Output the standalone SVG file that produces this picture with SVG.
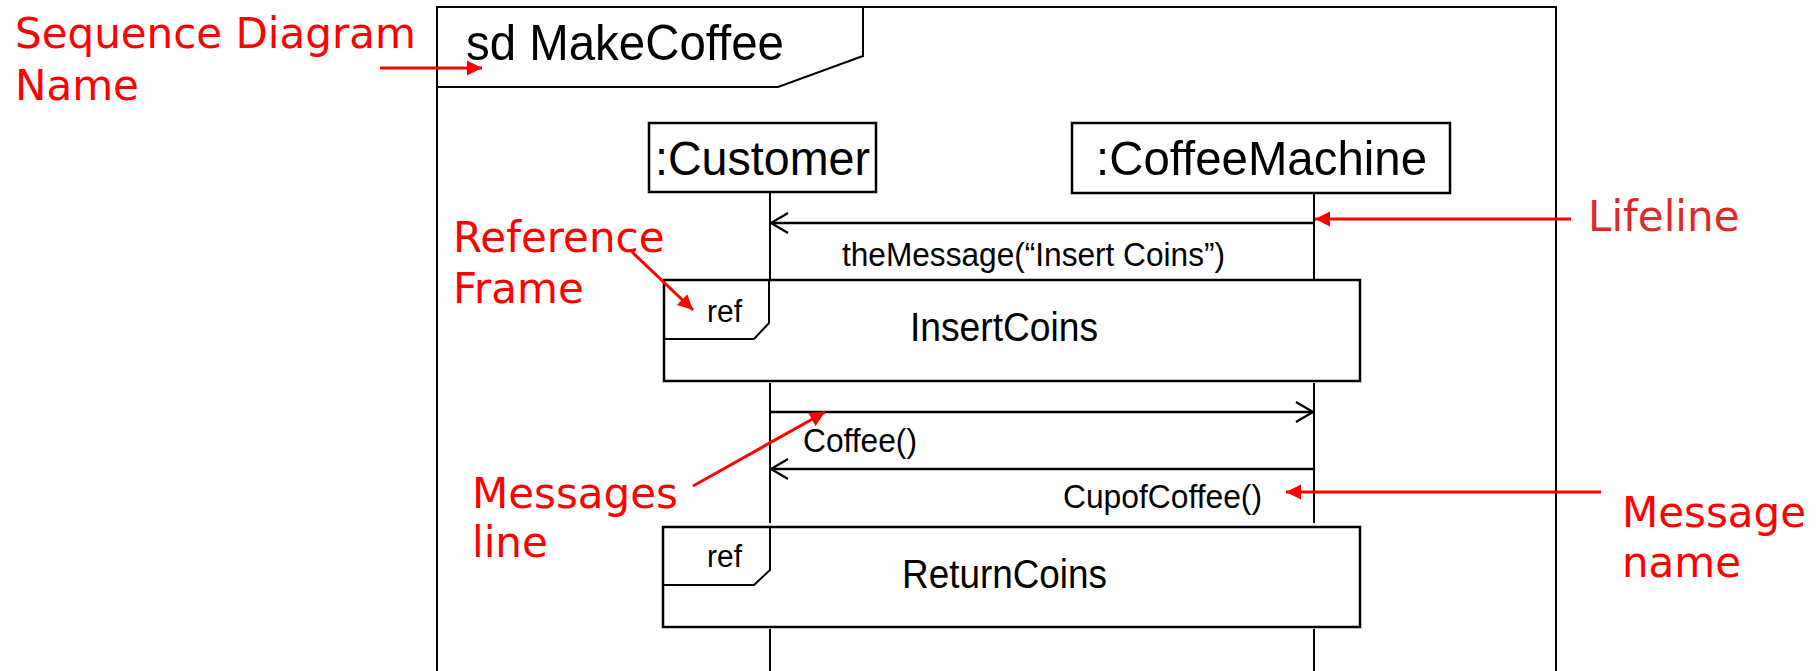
<svg xmlns="http://www.w3.org/2000/svg" width="1816" height="671" viewBox="0 0 1816 671">
<style>
.ln{stroke:#000;stroke-width:2;fill:none}
.msg{stroke:#000;stroke-width:2.3;fill:none}
.box{stroke:#000;stroke-width:2.5;fill:#fff}
.blk{font-family:"Liberation Sans",Arial,sans-serif;fill:#000}
.red{font-family:"DejaVu Sans",Verdana,sans-serif;font-size:42px;fill:#ff0000}
.rl{stroke:#ff0000;stroke-width:3;fill:none}
</style>
<defs>
<marker id="redHead" markerUnits="userSpaceOnUse" markerWidth="16" markerHeight="16" refX="15" refY="7.5" orient="auto" overflow="visible">
<path d="M0,0 L15,7.5 L0,15 z" fill="#ff0000"/>
</marker>
<marker id="openHead" markerUnits="userSpaceOnUse" markerWidth="20" markerHeight="22" refX="17" refY="10" orient="auto" overflow="visible">
<path d="M0,0 L17,10 L0,20" fill="none" stroke="#000" stroke-width="2.2"/>
</marker>
</defs>
<rect width="1816" height="671" fill="#fff"/>

<g id="frame">
<path class="ln" d="M437,680 L437,7 L1556,7 L1556,680"/>
<path class="ln" d="M437,87 L778,87 L863,56 L863,7" stroke-width="2.5"/>
<text class="blk" x="466" y="60" font-size="50" textLength="318" lengthAdjust="spacingAndGlyphs">sd MakeCoffee</text>
</g>

<g id="customer">
<rect class="box" x="649" y="123" width="227" height="69" stroke-width="2"/>
<text class="blk" x="655" y="175" font-size="49" textLength="215" lengthAdjust="spacingAndGlyphs">:Customer</text>
<path class="ln" d="M770,192 L770,280 M770,383 L770,523 M770,629 L770,671"/>
</g>

<g id="coffeeMachine">
<rect class="box" x="1072" y="123" width="378" height="70" stroke-width="2"/>
<text class="blk" x="1096" y="175" font-size="49" textLength="331" lengthAdjust="spacingAndGlyphs">:CoffeeMachine</text>
<path class="ln" d="M1314,193 L1314,280 M1314,383 L1314,523 M1314,629 L1314,671"/>
</g>

<g id="refInsertCoins">
<rect class="box" x="664" y="280" width="696" height="101"/>
<path class="ln" d="M664,339 L754,339 L769,323 L769,280" stroke-width="2.5"/>
<text class="blk" x="707" y="322" font-size="31" textLength="35" lengthAdjust="spacingAndGlyphs">ref</text>
<text class="blk" x="910" y="341" font-size="40" textLength="188" lengthAdjust="spacingAndGlyphs">InsertCoins</text>
</g>

<g id="refReturnCoins">
<rect class="box" x="663" y="527" width="697" height="100"/>
<path class="ln" d="M663,585 L754,585 L770,570 L770,527" stroke-width="2.5"/>
<text class="blk" x="707" y="567" font-size="31" textLength="35" lengthAdjust="spacingAndGlyphs">ref</text>
<text class="blk" x="902" y="588" font-size="40" textLength="205" lengthAdjust="spacingAndGlyphs">ReturnCoins</text>
</g>

<g id="connectors">
<line class="msg" x1="1314" y1="223" x2="771" y2="223" marker-end="url(#openHead)"/>
<text class="blk" x="842" y="266" font-size="34" textLength="383" lengthAdjust="spacingAndGlyphs">theMessage(“Insert Coins”)</text>
<line class="msg" x1="770" y1="412" x2="1313" y2="412" marker-end="url(#openHead)"/>
<text class="blk" x="803" y="452" font-size="34" textLength="114" lengthAdjust="spacingAndGlyphs">Coffee()</text>
<line class="msg" x1="1314" y1="469" x2="771" y2="469" marker-end="url(#openHead)"/>
<text class="blk" x="1063" y="508" font-size="34" textLength="199" lengthAdjust="spacingAndGlyphs">CupofCoffee()</text>
</g>

<g id="annotations">
<text class="red" x="15" y="48">Sequence Diagram</text>
<text class="red" x="15" y="100">Name</text>
<line class="rl" x1="380" y1="68" x2="482" y2="68" marker-end="url(#redHead)"/>

<text class="red" x="453" y="252">Reference</text>
<text class="red" x="453" y="303">Frame</text>
<line class="rl" x1="632" y1="252" x2="693" y2="310" marker-end="url(#redHead)"/>

<text class="red" x="1588" y="231" style="fill:#dc2a2a">Lifeline</text>
<line class="rl" x1="1571" y1="219" x2="1315" y2="219" marker-end="url(#redHead)"/>

<text class="red" x="472" y="508">Messages</text>
<text class="red" x="472" y="557">line</text>
<line class="rl" x1="693" y1="486" x2="825" y2="412" marker-end="url(#redHead)"/>

<text class="red" x="1622" y="527">Message</text>
<text class="red" x="1622" y="577">name</text>
<line class="rl" x1="1601" y1="492" x2="1286" y2="492" marker-end="url(#redHead)"/>
</g>
</svg>
